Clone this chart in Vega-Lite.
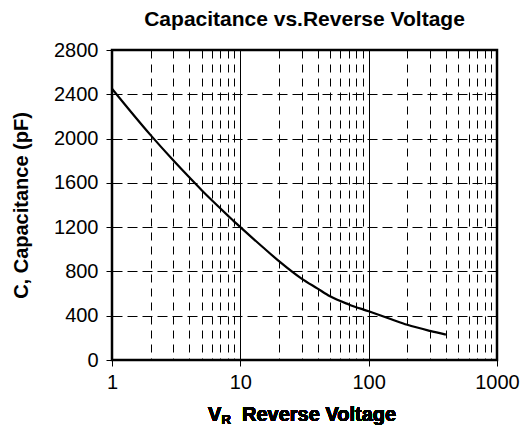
{
  "$schema": "https://vega.github.io/schema/vega-lite/v6.json",
  "width": 385,
  "height": 310,
  "autosize": {"type": "none"},
  "padding": {"left": 112, "top": 50, "right": 26, "bottom": 73},
  "background": "white",
  "title": {
    "text": "Capacitance vs.Reverse Voltage",
    "font": "Liberation Sans",
    "fontSize": 21,
    "fontWeight": "bold",
    "color": "black",
    "anchor": "middle",
    "offset": 10
  },
  "config": {
    "font": "Liberation Sans",
    "view": {"stroke": "black", "strokeWidth": 2.5}
  },
  "data": {
    "values": [
      {"v": 1, "c": 2450},
      {"v": 2, "c": 2031},
      {"v": 3, "c": 1804},
      {"v": 4, "c": 1650},
      {"v": 5, "c": 1534},
      {"v": 6, "c": 1443},
      {"v": 7, "c": 1368},
      {"v": 8, "c": 1304},
      {"v": 9, "c": 1248},
      {"v": 10, "c": 1200},
      {"v": 15, "c": 1018},
      {"v": 20, "c": 893},
      {"v": 30, "c": 735},
      {"v": 40, "c": 645},
      {"v": 50, "c": 575},
      {"v": 70, "c": 502},
      {"v": 100, "c": 440},
      {"v": 150, "c": 368},
      {"v": 200, "c": 318},
      {"v": 300, "c": 263},
      {"v": 400, "c": 229}
    ]
  },
  "layer": [
    {
      "mark": {"type": "line", "color": "black", "strokeWidth": 2.2, "interpolate": "monotone"},
      "encoding": {
        "x": {
          "field": "v",
          "type": "quantitative",
          "scale": {"type": "log", "domain": [1, 1000], "nice": false},
          "axis": {
            "title": null,
            "values": [1,2,3,4,5,6,7,8,9,10,20,30,40,50,60,70,80,90,100,200,300,400,500,600,700,800,900,1000],
            "format": "d",
            "labelExpr": "indexof([1,10,100,1000], datum.value) >= 0 ? datum.label : ''",
            "labelFontSize": 20,
            "labelColor": "black",
            "labelPadding": 6,
            "labelFlush": false,
            "labelOverlap": false,
            "domain": false,
            "tickColor": "black",
            "tickSize": 6,
            "tickOpacity": {"condition": {"test": "indexof([1,10,100,1000], datum.value) >= 0", "value": 1}, "value": 0},
            "grid": true,
            "gridColor": "black",
            "gridWidth": 1,
            "gridOpacity": {"condition": {"test": "datum.value === 1 || datum.value === 1000", "value": 0}, "value": 1},
            "gridDash": {"condition": {"test": "datum.value === 10 || datum.value === 100", "value": []}, "value": [8, 6]}
          }
        },
        "y": {
          "field": "c",
          "type": "quantitative",
          "scale": {"domain": [0, 2800], "nice": false, "zero": true},
          "axis": {
            "title": "C, Capacitance (pF)",
            "titleFontSize": 20,
            "titleFontWeight": "bold",
            "titleColor": "black",
            "titlePadding": 22,
            "values": [0, 400, 800, 1200, 1600, 2000, 2400, 2800],
            "format": "d",
            "labelFontSize": 20,
            "labelColor": "black",
            "labelPadding": 8,
            "domain": false,
            "tickColor": "black",
            "tickSize": 6,
            "grid": true,
            "gridColor": "black",
            "gridWidth": 1,
            "gridDash": [10, 5],
            "gridOpacity": {"condition": {"test": "datum.value === 0 || datum.value === 2800", "value": 0}, "value": 1}
          }
        }
      }
    },
    {
      "mark": {"type": "text", "text": "V", "align": "left", "fontSize": 20, "fontWeight": "bold", "color": "black"},
      "encoding": {"x": {"datum": 5.6}, "y": {"datum": -497}}
    },
    {
      "mark": {"type": "text", "text": "R", "align": "left", "fontSize": 13, "fontWeight": "bold", "color": "black"},
      "encoding": {"x": {"datum": 7.13}, "y": {"datum": -538}}
    },
    {
      "mark": {"type": "text", "text": "Reverse Voltage", "align": "left", "fontSize": 20, "fontWeight": "bold", "color": "black"},
      "encoding": {"x": {"datum": 10.3}, "y": {"datum": -497}}
    }
  ]
}
